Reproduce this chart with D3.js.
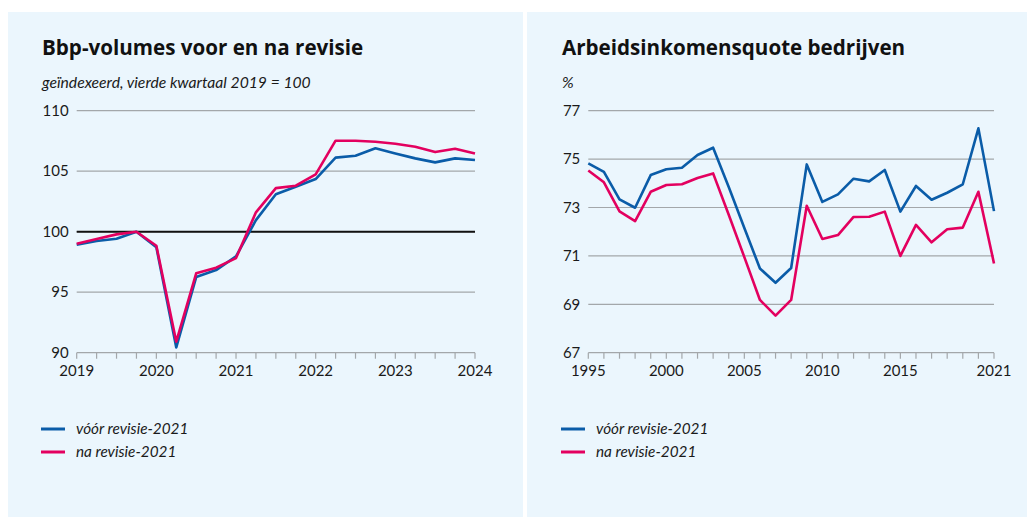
<!DOCTYPE html>
<html>
<head>
<meta charset="utf-8">
<script src="https://cdn.jsdelivr.net/npm/d3@7"></script>
<style>
  body { margin: 0; background: #fff; }
  svg { display: block; font-family: Lato, "Open Sans", sans-serif; }
  .grid line { stroke: #a3a7aa; stroke-width: 1.2; }
  .tick-label { font-size: 15px; fill: #1a1a1a; }
  .title { font-family: "Open Sans", sans-serif; font-size: 20.6px; font-weight: bold; fill: #111; }
  .sub { font-size: 15.7px; font-style: italic; fill: #1a1a1a; }
  .legend { font-size: 15.3px; font-style: italic; fill: #1a1a1a; }
</style>
</head>
<body>
<svg id="canvas" width="1027" height="517"></svg>
<script>
// bbp-volumes, geindexeerd (4e kwartaal 2019 = 100)
var bbpQuarters = ["2019K1", "2019K2", "2019K3", "2019K4",
    "2020K1", "2020K2", "2020K3", "2020K4",
    "2021K1", "2021K2", "2021K3", "2021K4",
    "2022K1", "2022K2", "2022K3", "2022K4",
    "2023K1", "2023K2", "2023K3", "2023K4",
    "2024K1"];
var bbpVoor = [98.93, 99.23, 99.42, 100.0, 98.71, 90.44, 96.25, 96.83, 97.96, 100.96, 103.09,
    103.72, 104.35, 106.12, 106.28, 106.89, 106.47, 106.06, 105.73, 106.06, 105.92];
var bbpNa = [99.01, 99.39, 99.78, 100.0, 98.84, 90.91, 96.56, 97.03, 97.82, 101.6, 103.6,
    103.8, 104.74, 107.52, 107.52, 107.44, 107.27, 107.02, 106.58, 106.86, 106.47];
var bbpTicks = [90, 95, 100, 105, 110];
var bbpYearLabels = ["2019", "2020", "2021", "2022", "2023", "2024"];

// arbeidsinkomensquote bedrijven (%)
var aiqYears = [1995, 1996, 1997, 1998, 1999, 2000, 2001, 2002, 2003, 2004, 2005, 2006, 2007,
    2008, 2009, 2010, 2011, 2012, 2013, 2014, 2015, 2016, 2017, 2018, 2019, 2020, 2021];
var aiqVoor = [74.82, 74.47, 73.34, 72.99, 74.34, 74.58, 74.64, 75.17, 75.47, 73.85, 72.15, 70.48,
    69.89, 70.5, 74.78, 73.23, 73.54, 74.19, 74.08, 74.55, 72.83, 73.89, 73.32, 73.61, 73.96, 76.27, 72.85];
var aiqNa = [74.53, 74.04, 72.84, 72.44, 73.65, 73.93, 73.96, 74.22, 74.41, 72.7, 70.95, 69.18,
    68.53, 69.18, 73.07, 71.7, 71.86, 72.61, 72.62, 72.83, 71.0, 72.28, 71.56, 72.1, 72.17, 73.65, 70.69];
var aiqTicks = [67, 69, 71, 73, 75, 77];
var aiqYearLabels = [1995, 2000, 2005, 2010, 2015, 2021];

var seriesNames = ["vóór revisie-2021", "na revisie-2021"];
var seriesColors = ["#0a5ca8", "#e3005f"];

var svg = d3.select("#canvas");

// panels
svg.append("rect").attr("x", 8).attr("y", 12).attr("width", 515).attr("height", 505).attr("fill", "#ebf6fd");
svg.append("rect").attr("x", 527).attr("y", 12).attr("width", 500).attr("height", 505).attr("fill", "#ebf6fd");

var plotTop = 110.7, plotBottom = 352.7;

function drawPanel(opts) {
    var g = svg.append("g");
    var x = opts.x, y = opts.y;

    g.append("text").attr("class", "title").attr("x", opts.left).attr("y", 55).text(opts.title);
    g.append("text").attr("class", "sub").attr("x", opts.left).attr("y", 88).text(opts.sub);

    // gridlines
    var grid = g.append("g").attr("class", "grid");
    grid.selectAll("line").data(opts.yTicks).enter().append("line")
        .attr("x1", x.range()[0]).attr("x2", x.range()[1])
        .attr("y1", function (d) { return y(d); })
        .attr("y2", function (d) { return y(d); });

    if (opts.refLine !== undefined) {
        g.append("line")
            .attr("x1", x.range()[0]).attr("x2", x.range()[1])
            .attr("y1", y(opts.refLine)).attr("y2", y(opts.refLine))
            .attr("stroke", "#111").attr("stroke-width", 2);
    }

    // y labels
    g.selectAll(".ylab").data(opts.yTicks).enter().append("text")
        .attr("class", "tick-label")
        .attr("x", x.range()[0] - 8)
        .attr("y", function (d) { return y(d); })
        .attr("dy", "0.35em")
        .attr("text-anchor", "end")
        .text(function (d) { return d; });

    // x ticks
    g.selectAll(".xtick").data(opts.xTickValues).enter().append("line")
        .attr("x1", function (d) { return x(d); })
        .attr("x2", function (d) { return x(d); })
        .attr("y1", plotBottom).attr("y2", plotBottom + 6)
        .attr("stroke", "#a3a7aa").attr("stroke-width", 1.2);

    g.selectAll(".xlab").data(opts.xLabels).enter().append("text")
        .attr("class", "tick-label")
        .attr("x", function (d) { return x(d.key); })
        .attr("y", plotBottom + 23)
        .attr("text-anchor", "middle")
        .text(function (d) { return d.text; });

    // series
    var line = d3.line()
        .x(function (d) { return x(d[0]); })
        .y(function (d) { return y(d[1]); });
    opts.series.forEach(function (s, i) {
        g.append("path")
            .datum(opts.xValues.map(function (k, j) { return [k, s[j]]; }))
            .attr("fill", "none")
            .attr("stroke", seriesColors[i])
            .attr("stroke-width", 2.6)
            .attr("stroke-linejoin", "round")
            .attr("d", line);
    });

    // legend
    seriesNames.forEach(function (name, i) {
        var ly = 429 + i * 23;
        g.append("line").attr("x1", opts.left - 1).attr("x2", opts.left + 23)
            .attr("y1", ly).attr("y2", ly)
            .attr("stroke", seriesColors[i]).attr("stroke-width", 3);
        g.append("text").attr("class", "legend")
            .attr("x", opts.left + 34).attr("y", ly + 5).text(name);
    });
}

var xBbp = d3.scalePoint().domain(bbpQuarters).range([76.7, 475]);
drawPanel({
    left: 42,
    title: "Bbp-volumes voor en na revisie",
    sub: "geïndexeerd, vierde kwartaal 2019 = 100",
    x: xBbp,
    y: d3.scaleLinear().domain([90, 110]).range([plotBottom, plotTop]),
    yTicks: bbpTicks,
    refLine: 100,
    xValues: bbpQuarters,
    xTickValues: bbpQuarters,
    xLabels: bbpYearLabels.map(function (yr) { return {key: yr + "K1", text: yr}; }),
    series: [bbpVoor, bbpNa]
});

var xAiq = d3.scaleLinear().domain([1995, 2021]).range([588.3, 994]);
drawPanel({
    left: 562,
    title: "Arbeidsinkomensquote bedrijven",
    sub: "%",
    x: xAiq,
    y: d3.scaleLinear().domain([67, 77]).range([plotBottom, plotTop]),
    yTicks: aiqTicks,
    xValues: aiqYears,
    xTickValues: aiqYears,
    xLabels: aiqYearLabels.map(function (yr) { return {key: yr, text: yr}; }),
    series: [aiqVoor, aiqNa]
});
</script>
</body>
</html>
